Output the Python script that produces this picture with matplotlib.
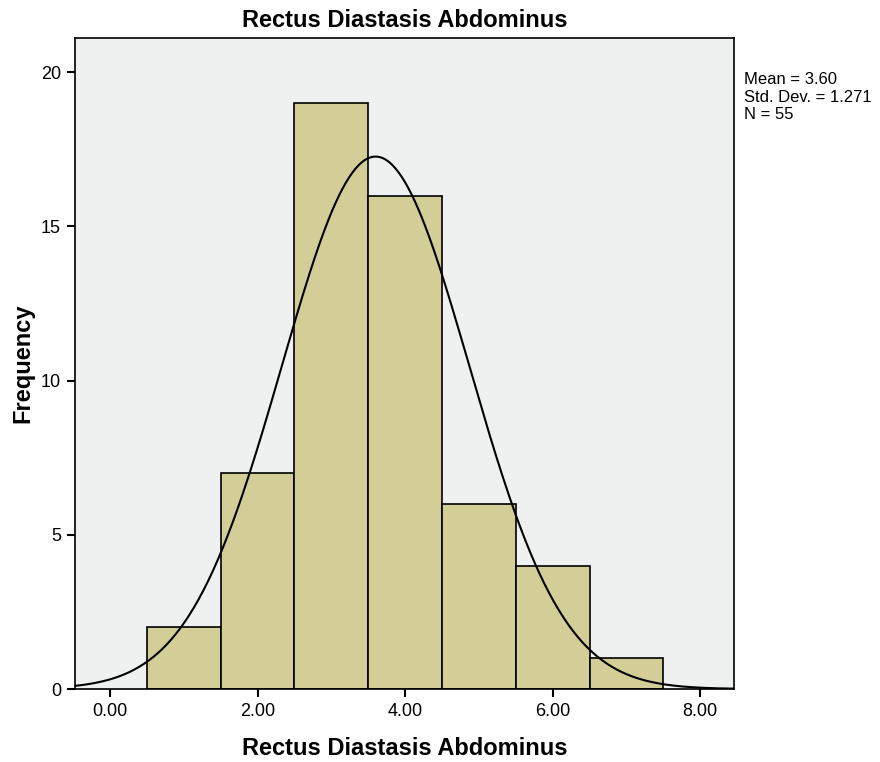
import matplotlib
matplotlib.use('Agg')
import matplotlib.pyplot as plt
import numpy as np

# histogram bins (bin edges) and counts
bin_edges = [0.5, 1.5, 2.5, 3.5, 4.5, 5.5, 6.5, 7.5]
counts = [2, 7, 19, 16, 6, 4, 1]
mean_val = 3.60
std_val = 1.271
n_val = 55
x_ticks = [0, 2, 4, 6, 8]
y_ticks = [0, 5, 10, 15, 20]

plt.rcParams['font.family'] = ['Liberation Sans', 'DejaVu Sans']

fig = plt.figure(figsize=(8.8, 7.62), dpi=100)
ax = fig.add_axes([0.0852, 0.0958, 0.749, 0.854])
ax.set_facecolor('#eff0f0')

lefts = np.array(bin_edges[:-1])
widths = np.diff(bin_edges)
ax.bar(lefts, counts, width=widths, align='edge', color='#d3ce98',
       edgecolor='black', linewidth=1.2, zorder=2)

# normal curve scaled to frequency
xs = np.linspace(-0.48, 8.46, 400)
bw = widths[0]
ys = n_val * bw / (std_val * np.sqrt(2 * np.pi)) * np.exp(-0.5 * ((xs - mean_val) / std_val) ** 2)
ax.plot(xs, ys, color='black', linewidth=1.5, zorder=3)

ax.set_xlim(-0.475, 8.46)
ax.set_ylim(0, 21.1)
ax.set_xticks(x_ticks)
ax.set_xticklabels([f"{t:.2f}" for t in x_ticks], fontsize=13)
ax.set_yticks(y_ticks)
ax.set_yticklabels([str(t) for t in y_ticks], fontsize=13)
ax.tick_params(direction='out', length=6, width=1.5, pad=4)
for s in ax.spines.values():
    s.set_linewidth(1.2)

ax.set_title('Rectus Diastasis Abdominus', fontsize=17, fontweight='bold', pad=8)
ax.set_xlabel('Rectus Diastasis Abdominus', fontsize=17, fontweight='bold', labelpad=12)
ax.set_ylabel('Frequency', fontsize=17, fontweight='bold', labelpad=5)

fig.text(0.846, 0.905, f"Mean = {mean_val:.2f}\nStd. Dev. = {std_val:.3f}\nN = {n_val}",
         fontsize=12, va='top', ha='left', linespacing=1.2)

fig.savefig('out.png', dpi=100)
